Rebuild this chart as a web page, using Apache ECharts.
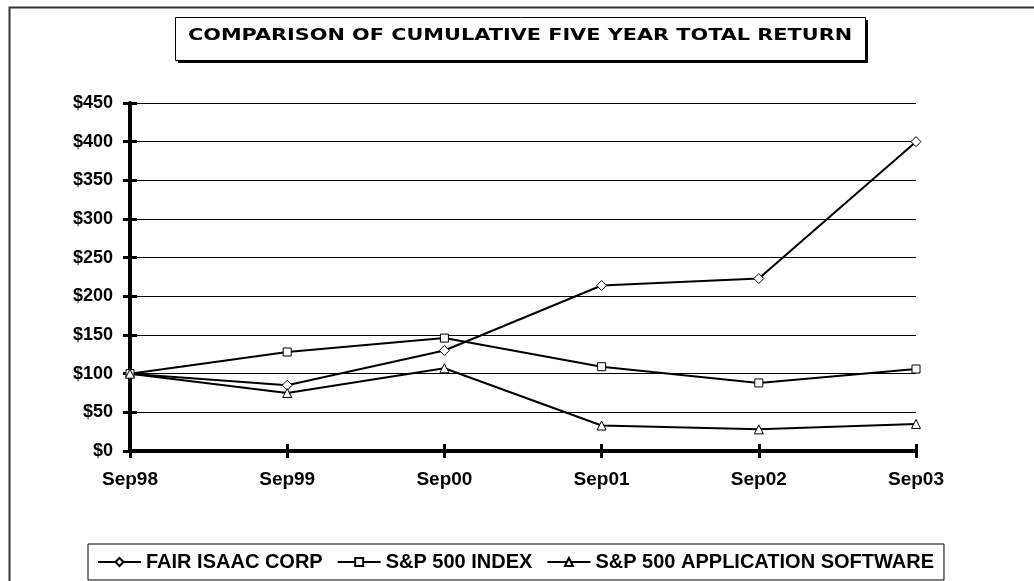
<!DOCTYPE html>
<html>
<head>
    <meta charset="utf-8">
    <title>Cumulative Five Year Total Return</title>
    <script src="https://cdn.jsdelivr.net/npm/echarts@6/dist/echarts.min.js"></script>
    <style>
        * {
            margin: 0;
            padding: 0
        }

        html, body {
            width: 100%;
            height: 100%;
            background: #fff;
        }

        #main {
            width: 1034px;
            height: 581px;
        }
    </style>
</head>
<body>
<div id="main"></div>
</body>

<script type="text/javascript">
    // 数据
    var categories = ['Sep98', 'Sep99', 'Sep00', 'Sep01', 'Sep02', 'Sep03'];
    var fairIsaac = [100, 85, 130, 214, 223, 400];
    var sp500 = [100, 128, 146, 109, 88, 106];
    var appSoftware = [100, 75, 107, 33, 28, 35];
    var seriesNames = ['FAIR ISAAC CORP', 'S&P 500 INDEX', 'S&P 500 APPLICATION SOFTWARE'];
    var titleText = 'COMPARISON OF CUMULATIVE FIVE YEAR TOTAL RETURN';

    var font = 'Liberation Sans, Arial, sans-serif';

    function lineSeries(name, data, symbol, size) {
        return {
            name: name,
            type: 'line',
            data: data,
            symbol: symbol,
            symbolSize: size,
            lineStyle: {color: '#000', width: 2},
            itemStyle: {color: '#fff', borderColor: '#000', borderWidth: 1},
            emphasis: {disabled: true}
        };
    }

    var myChart = echarts.init(document.getElementById('main'));
    myChart.setOption({
        animation: false,
        backgroundColor: '#fff',
        graphic: [
            // 外框（只看得到上边和左边）
            {
                type: 'rect', left: 7, top: 5, z: 0,
                shape: {width: 1100, height: 700},
                style: {fill: 'none', stroke: '#333', lineWidth: 2}
            },
            // 标题框阴影
            {
                type: 'rect', left: 178, top: 20, z: 1,
                shape: {width: 690, height: 43},
                style: {fill: '#000'}
            },
            {
                type: 'rect', left: 175, top: 17, z: 2,
                shape: {width: 690, height: 43},
                style: {fill: '#fff', stroke: '#000', lineWidth: 1}
            },
            {
                type: 'text', x: 520, y: 36, z: 3, scaleX: 1.3,
                style: {
                    text: titleText,
                    font: 'bold 16px DejaVu Sans, sans-serif',
                    fill: '#000',
                    align: 'center',
                    verticalAlign: 'middle'
                }
            }
        ],
        legend: {
            data: seriesNames,
            left: 88,
            top: 544,
            padding: [8, 10, 8, 9],
            itemGap: 14,
            itemWidth: 43,
            itemHeight: 10,
            borderColor: '#000',
            borderWidth: 1,
            selectedMode: false,
            textStyle: {fontFamily: font, fontWeight: 'bold', fontSize: 20, color: '#000'}
        },
        grid: {left: 130, right: 118, top: 103, bottom: 130},
        xAxis: [
            {
                type: 'category',
                data: categories,
                boundaryGap: false,
                position: 'bottom',
                axisLine: {lineStyle: {color: '#000', width: 4}},
                axisTick: {lineStyle: {color: '#000', width: 3}, length: 7},
                axisLabel: {
                    fontFamily: font, fontWeight: 'bold', fontSize: 19,
                    color: '#000', margin: 19
                },
                splitLine: {show: false}
            },
            {
                type: 'category',
                data: categories,
                boundaryGap: false,
                position: 'bottom',
                axisLine: {show: false},
                axisTick: {inside: true, lineStyle: {color: '#000', width: 3}, length: 7},
                axisLabel: {show: false},
                splitLine: {show: false}
            }
        ],
        yAxis: [
            {
                type: 'value',
                min: 0,
                max: 450,
                interval: 50,
                position: 'left',
                axisLine: {show: true, lineStyle: {color: '#000', width: 4}},
                axisTick: {show: true, lineStyle: {color: '#000', width: 3}, length: 7},
                axisLabel: {
                    fontFamily: font, fontWeight: 'bold', fontSize: 18,
                    color: '#000', margin: 17,
                    formatter: function (v) {
                        return '$' + v;
                    }
                },
                splitLine: {lineStyle: {color: '#000', width: 1}}
            },
            {
                type: 'value',
                min: 0,
                max: 450,
                interval: 50,
                position: 'left',
                axisLine: {show: false},
                axisTick: {show: true, inside: true, lineStyle: {color: '#000', width: 3}, length: 7},
                axisLabel: {show: false},
                splitLine: {show: false}
            }
        ],
        series: [
            lineSeries(seriesNames[0], fairIsaac, 'diamond', 10),
            lineSeries(seriesNames[1], sp500, 'rect', 8),
            lineSeries(seriesNames[2], appSoftware, 'triangle', 9)
        ]
    });
</script>
</html>
